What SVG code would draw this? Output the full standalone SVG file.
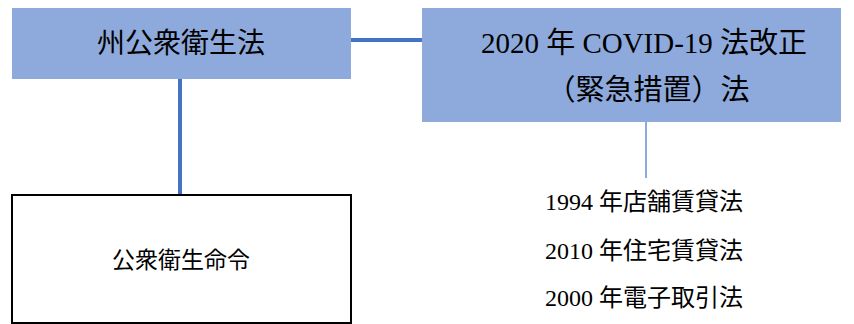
<svg xmlns="http://www.w3.org/2000/svg" width="854" height="324" viewBox="0 0 854 324">
<style>
text{font-family:"Liberation Serif","Noto Sans CJK JP",serif;fill:#000;text-anchor:middle}
.blue{fill:#8EAADC}
.big{font-size:28px}
.big2{font-size:29px}
.mid{font-size:23px}
.list{font-size:24px}
</style>
<rect width="854" height="324" fill="#fff"/>
<g id="connectors" stroke="#4472C4" fill="none">
<line x1="351" y1="40" x2="422" y2="40" stroke-width="4"/>
<line x1="180" y1="79" x2="180" y2="195" stroke-width="4"/>
<line x1="646" y1="122" x2="646" y2="178" stroke-width="1.2"/>
</g>
<g id="node-state">
<rect class="blue" x="12" y="8" width="339" height="71"/>
<text class="big" x="181" y="53">州公衆衛生法</text>
</g>
<g id="node-covid">
<rect class="blue" x="422" y="8" width="419" height="114"/>
<text class="big2" x="644" y="53">2020 年 COVID-19 法改正</text>
<text class="big2" x="648" y="100">（緊急措置）法</text>
</g>
<g id="node-order">
<rect x="12" y="195" width="339" height="128" fill="#fff" stroke="#000" stroke-width="2"/>
<text class="mid" x="181" y="268">公衆衛生命令</text>
</g>
<g id="node-list">
<text class="list" x="644" y="210">1994 年店舗賃貸法</text>
<text class="list" x="644" y="259">2010 年住宅賃貸法</text>
<text class="list" x="644" y="306">2000 年電子取引法</text>
</g>
</svg>
